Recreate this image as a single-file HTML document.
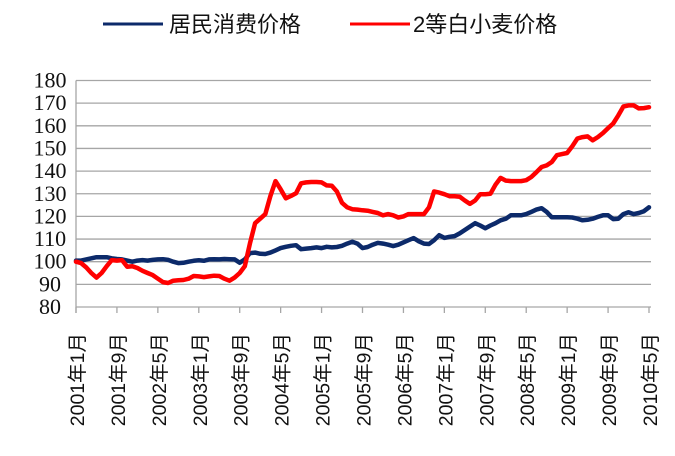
<!DOCTYPE html>
<html><head><meta charset="utf-8"><style>
html,body{margin:0;padding:0;background:#fff;}
svg{display:block;font-family:"Liberation Sans","Noto Sans CJK SC",sans-serif;}
.ylab{font-family:"Liberation Serif",serif;}
</style></head><body>
<svg id="chart" width="675" height="456" viewBox="0 0 675 456" xmlns="http://www.w3.org/2000/svg">
<g>
  <g>
    <line x1="103" y1="24" x2="163" y2="24" stroke="#0c2a6a" stroke-width="3"/>
    <text x="169" y="32" font-size="22" fill="#111">居民消费价格</text>
  </g>
  <g>
    <line x1="350" y1="24" x2="410" y2="24" stroke="#ff0000" stroke-width="3"/>
    <text x="413" y="32" font-size="22" fill="#111">2等白小麦价格</text>
  </g>
</g>
<g id="grid"></g>
<g id="yaxis"></g>
<g id="xaxis"></g>
<g id="series"></g>
</svg>
<script>
const yTicks = [80,90,100,110,120,130,140,150,160,170,180];
const xTickLabels = ["2001年1月","2001年9月","2002年5月","2003年1月","2003年9月","2004年5月","2005年1月","2005年9月","2006年5月","2007年1月","2007年9月","2008年5月","2009年1月","2009年9月","2010年5月"];
const cpiValues = [
100.5,100.5,101,101.5,102,102,102,101.5,101.2,101,100.5,100,
100.5,100.7,100.5,100.8,101,101.1,100.8,100,99.4,99.5,100,100.4,
100.6,100.4,101,101.1,101,101.2,101.1,101,99.5,101,103.8,104,
103.5,103.4,104,105,106,106.6,107,107.3,105.5,105.8,106,106.3,
106,106.6,106.3,106.5,107,108,108.8,108,106,106.5,107.5,108.3,
108,107.5,106.9,107.5,108.5,109.5,110.4,109,108,107.8,109.5,111.7,
110.5,111,111.3,112.5,114,115.5,117,116,114.8,116,117,118.3,
119,120.5,120.5,120.5,121,122,123,123.6,122,119.6,119.6,119.6,
119.6,119.5,119,118.3,118.5,119,119.8,120.5,120.5,118.8,119,121,
121.8,121,121.5,122.3,124];
const wheatValues = [
100,99.4,97.5,95,93,95,98,100.7,100.5,100.7,97.8,98,
97.2,96,95,94.1,92.5,91,90.6,91.6,91.8,91.9,92.5,93.7,
93.5,93.2,93.5,93.8,93.7,92.5,91.6,93,95,98,108,117,
119,121,129,135.6,132,128,129,130.2,134.6,135,135.2,135.2,
135,133.7,133.5,131,126,124,123.2,123,122.7,122.5,122,121.5,
120.5,121,120.5,119.5,120,121,121,121,121,124,131,130.5,
129.8,128.9,128.9,128.7,127,125.5,127,129.8,129.8,130,134,137,
135.8,135.6,135.6,135.6,136,137.4,139.5,141.8,142.5,144,147,147.5,
148,151,154.4,155,155.3,153.6,155,156.8,159,161,164.6,168.5,
169,169,167.7,167.8,168.2];

const NS="http://www.w3.org/2000/svg";
const X0=76, X1=649, Y0=307, Y1=80.5;
const months=112;
function xScale(i){return X0+(X1-X0)*i/months;}
function yScale(v){return Y0-(Y0-Y1)*(v-80)/100;}
function mk(tag,attrs,parent){const e=document.createElementNS(NS,tag);for(const k in attrs)e.setAttribute(k,attrs[k]);parent.appendChild(e);return e;}
const grid=document.getElementById('grid'), ya=document.getElementById('yaxis'), xa=document.getElementById('xaxis'), ser=document.getElementById('series');
yTicks.forEach(v=>{
  const y=yScale(v);
  if(v>80){const l=mk('line',{x1:X0,x2:X1+2,y1:y,y2:y,stroke:'#a6a6a6','stroke-width':1.3},grid);
  
  }
  const t=mk('text',{x:50,y:y+7,'font-size':22,'text-anchor':'middle',fill:'#111','class':'ylab'},ya);
  t.textContent=v;
  
  
});
mk('line',{x1:X0,x2:X0,y1:Y1,y2:Y0+6,stroke:'#a6a6a6','stroke-width':1.3},ya);
mk('line',{x1:X0,x2:X1+2,y1:Y0,y2:Y0,stroke:'#a6a6a6','stroke-width':1.3},xa);
xTickLabels.forEach((lab,k)=>{
  const x=xScale(k*8);
  mk('line',{x1:x,x2:x,y1:Y0,y2:Y0+6,stroke:'#a6a6a6','stroke-width':1.3},xa);
  const t=mk('text',{x:0,y:0,'font-size':19.5,'text-anchor':'end',fill:'#111',transform:'translate('+(x+8)+',333) rotate(-90)'},xa);
  t.textContent=lab;
  
  
});
function line(vals,color,name){
  const d=vals.map((v,i)=>(i?'L':'M')+xScale(i).toFixed(1)+','+yScale(v).toFixed(1)).join(' ');
  const p=mk('path',{d:d,fill:'none',stroke:color,'stroke-width':4.5,'stroke-linejoin':'round','stroke-linecap':'round'},ser);
  
  
}
line(cpiValues,'#0c2a6a','cpi-line');
line(wheatValues,'#ff0000','wheat-price-line');
</script>
</body></html>
